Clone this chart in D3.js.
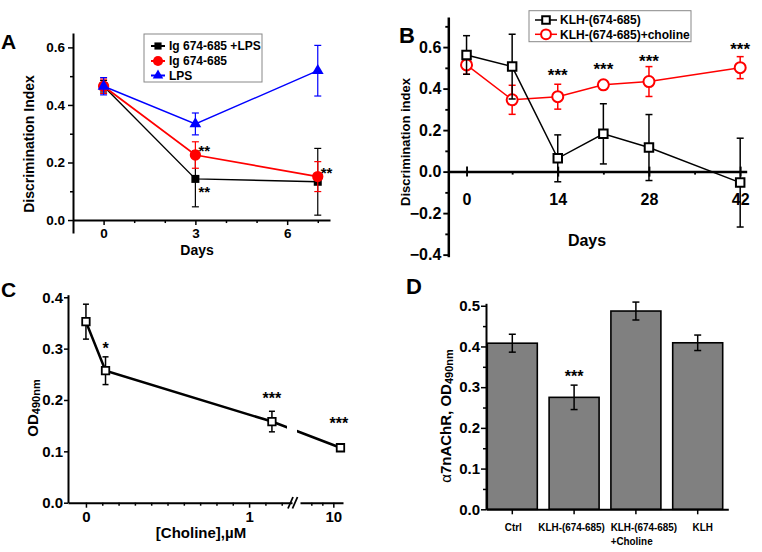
<!DOCTYPE html>
<html><head><meta charset="utf-8">
<script src="https://cdn.jsdelivr.net/npm/d3@7"></script>
<style>body{margin:0;background:#fff}</style>
</head><body>
<svg id="c" width="762" height="552"></svg>
<script>
// ---------- Panel A data ----------
const aDays = [0, 3, 7];
const aNames = ["Ig 674-685 +LPS", "Ig 674-685", "LPS"];
const aIgLps = [0.465, 0.143, 0.133];
const aIgLpsErr = [0.02, 0.097, 0.116];
const aIg = [0.465, 0.226, 0.151];
const aIgErr = [0.025, 0.046, 0.052];
const aLps = [0.465, 0.334, 0.519];
const aLpsErr = [0.03, 0.038, 0.088];
const aTicksX = [0, 3, 6];
const aTicksY = [0.0, 0.2, 0.4, 0.6];
const aStarDay = [3, 3, 7];
const aStarVal = [0.252, 0.111, 0.176];
const aStarText = ["**", "**", "**"];

// ---------- Panel B data ----------
const bDays = [0, 7, 14, 21, 28, 42];
const bNames = ["KLH-(674-685)", "KLH-(674-685)+choline"];
const bKlh = [0.562, 0.506, 0.064, 0.182, 0.116, -0.053];
const bKlhErr = [0.093, 0.156, 0.113, 0.145, 0.159, 0.214];
const bChol = [0.514, 0.346, 0.361, 0.418, 0.434, 0.501];
const bCholErr = [0.045, 0.07, 0.06, 0.02, 0.072, 0.053];
const bTicksX = [0, 14, 28, 42];
const bTicksY = [-0.4, -0.2, 0.0, 0.2, 0.4, 0.6];
const bStarDay = [14, 21, 28, 42];
const bStarVal = [0.485, 0.514, 0.551, 0.61];
const bStarText = ["***", "***", "***", "***"];

// ---------- Panel C data ----------
const cConc = [0, 0.12, 1.14, 10.65];
const cOD = [0.3525, 0.257, 0.158, 0.107];
const cErr = [0.034, 0.027, 0.02, 0.006];
const cTicksX = [0, 1, 10];
const cTicksY = [0.0, 0.1, 0.2, 0.3, 0.4];
const cStarConc = [0.12, 1.14, 10.5];
const cStarVal = [0.307, 0.21, 0.162];
const cStarText = ["*", "***", "***"];

// ---------- Panel D data ----------
const dCats = ["Ctrl", "KLH-(674-685)", "KLH-(674-685)|+Choline", "KLH"];
const dVals = [0.408, 0.275, 0.487, 0.409];
const dErr = [0.022, 0.03, 0.022, 0.019];
const dTicksY = [0.0, 0.1, 0.2, 0.3, 0.4, 0.5];
const dStarCat = ["KLH-(674-685)"];
const dStarVal = [0.336];
const dStarText = ["***"];

const F = 'Arial, "Liberation Sans", Helvetica, sans-serif';
const svg = d3.select("#c").attr("font-family", F);
const fmt = d3.format(".1f");

function styleAxis(g, fs, w) {
  g.attr("font-family", F).attr("font-size", fs).attr("font-weight", "bold");
  g.select(".domain").attr("stroke-width", w);
  g.selectAll(".tick line").attr("stroke-width", w * 0.75);
  g.selectAll(".tick text").attr("fill", "#000");
  return g;
}
function minor(g, axis, w) {
  g.call(axis.tickFormat(""));
  g.select(".domain").remove();
  g.selectAll(".tick line").attr("stroke-width", w * 0.75);
}
function errBars(g, xs, ys, es, x, y, color, cap, w) {
  xs.forEach((d, i) => {
    const cx = x(d), y1 = y(ys[i] - es[i]), y2 = y(ys[i] + es[i]);
    g.append("line").attr("x1", cx).attr("x2", cx).attr("y1", y1).attr("y2", y2)
      .attr("stroke", color).attr("stroke-width", w);
    [y1, y2].forEach(yy => g.append("line").attr("x1", cx - cap).attr("x2", cx + cap)
      .attr("y1", yy).attr("y2", yy).attr("stroke", color).attr("stroke-width", w));
  });
}
function stars(g, xs, vals, texts, x, y, fs, anchor, dx) {
  xs.forEach((d, i) => g.append("text").attr("x", x(d) + (dx || 0)).attr("y", y(vals[i]) + 0.58 * fs)
    .attr("text-anchor", anchor).attr("font-size", fs).attr("font-weight", "bold").text(texts[i]));
}
function panelLabel(t, x, y, fs) {
  svg.append("text").attr("x", x).attr("y", y).attr("font-size", fs).attr("font-weight", "bold").text(t);
}

// ================= Panel A =================
{
  const x = d3.scaleLinear().domain([-1, 7.4]).range([73, 330]);
  const y = d3.scaleLinear().domain([-0.045, 0.65]).range([233, 33]);
  const g = svg.append("g");
  styleAxis(g.append("g").attr("transform", `translate(73,0)`)
    .call(d3.axisLeft(y).tickValues(aTicksY).tickFormat(fmt).tickSize(5).tickSizeOuter(0).tickPadding(3)), 13.5, 2);
  minor(g.append("g").attr("transform", `translate(73,0)`), d3.axisLeft(y).tickValues([0.1, 0.3, 0.5]).tickSize(3), 2);
  styleAxis(g.append("g").attr("transform", `translate(0,${y(0)})`)
    .call(d3.axisBottom(x).tickValues(aTicksX).tickFormat(d3.format("d")).tickSize(5).tickSizeOuter(0).tickPadding(3)), 13.5, 2);
  minor(g.append("g").attr("transform", `translate(0,${y(0)})`), d3.axisBottom(x).tickValues([1, 2, 4, 5, 7]).tickSize(3), 2);

  const series = [
    {v: aIgLps, e: aIgLpsErr, c: "#000000", s: d3.symbolSquare, sz: 64, w: 1.4},
    {v: aIg, e: aIgErr, c: "#ff0000", s: d3.symbolCircle, sz: 100, w: 1.8},
    {v: aLps, e: aLpsErr, c: "#0000ff", s: d3.symbolTriangle, sz: 60, w: 1.4}
  ];
  series.forEach(sr => {
    g.append("path").attr("d", d3.line().x((d, i) => x(aDays[i])).y(d => y(d))(sr.v))
      .attr("fill", "none").attr("stroke", sr.c).attr("stroke-width", sr.w);
    errBars(g, aDays, sr.v, sr.e, x, y, sr.c, 3.5, 1.2);
    sr.v.forEach((d, i) => g.append("path").attr("d", d3.symbol().type(sr.s).size(sr.sz)())
      .attr("transform", `translate(${x(aDays[i])},${y(d)})`).attr("fill", sr.c));
  });
  stars(g, aStarDay, aStarVal, aStarText, x, y, 15, "start", 3);

  // legend
  const lg = g.append("g");
  lg.append("rect").attr("x", 144).attr("y", 34).attr("width", 118).attr("height", 48)
    .attr("fill", "#fff").attr("stroke", "#888").attr("stroke-width", 1);
  const rows = [46, 61, 75.5];
  series.forEach((sr, i) => {
    lg.append("line").attr("x1", 151).attr("x2", 165).attr("y1", rows[i]).attr("y2", rows[i])
      .attr("stroke", sr.c).attr("stroke-width", 2);
    lg.append("path").attr("d", d3.symbol().type(sr.s).size(sr.sz * 0.8)())
      .attr("transform", `translate(158,${rows[i]})`).attr("fill", sr.c);
    lg.append("text").attr("x", 169).attr("y", rows[i] + 4.3).attr("font-size", 12)
      .attr("font-weight", "bold").text(aNames[i]);
  });
  g.append("text").attr("transform", "translate(34,144) rotate(-90)").attr("text-anchor", "middle")
    .attr("font-size", 14).attr("font-weight", "bold").text("Discrimination Index");
  g.append("text").attr("x", 197).attr("y", 255).attr("text-anchor", "middle")
    .attr("font-size", 14).attr("font-weight", "bold").text("Days");
  panelLabel("A", 1, 49, 21);
}

// ================= Panel B =================
{
  const x = d3.scaleLinear().domain([-2.8, 43]).range([448.3, 746.7]);
  const y = d3.scaleLinear().domain([-0.41, 0.745]).range([256.7, 17]);
  const g = svg.append("g");
  styleAxis(g.append("g").attr("transform", `translate(448.3,0)`)
    .call(d3.axisLeft(y).tickValues(bTicksY).tickFormat(fmt).tickSize(5).tickSizeOuter(0).tickPadding(2)), 16, 2.5);
  minor(g.append("g").attr("transform", `translate(448.3,0)`), d3.axisLeft(y).tickValues([-0.3, -0.1, 0.1, 0.3, 0.5, 0.7]).tickSize(3), 2.5);
  const xa = styleAxis(g.append("g").attr("transform", `translate(0,${y(0)})`)
    .call(d3.axisBottom(x).tickValues(bTicksX).tickFormat(d3.format("d")).tickSize(5).tickSizeOuter(0).tickPadding(17)), 16, 2.5);
  xa.selectAll(".tick line").attr("y1", -5).attr("y2", 5);
  minor(g.append("g").attr("transform", `translate(0,${y(0)})`), d3.axisBottom(x).tickValues([7, 21, 35]).tickSize(3), 2.5);

  const series = [
    {v: bChol, e: bCholErr, c: "#ff0000", s: d3.symbolCircle, sz: 95},
    {v: bKlh, e: bKlhErr, c: "#000000", s: d3.symbolSquare, sz: 72}
  ];
  series.forEach(sr => {
    g.append("path").attr("d", d3.line().x((d, i) => x(bDays[i])).y(d => y(d))(sr.v))
      .attr("fill", "none").attr("stroke", sr.c).attr("stroke-width", 1.5);
    errBars(g, bDays, sr.v, sr.e, x, y, sr.c, 3.5, 1.5);
    sr.v.forEach((d, i) => g.append("path").attr("d", d3.symbol().type(sr.s).size(sr.sz)())
      .attr("transform", `translate(${x(bDays[i])},${y(d)})`).attr("fill", "#fff")
      .attr("stroke", sr.c).attr("stroke-width", 2));
  });
  stars(g, bStarDay, bStarVal, bStarText, x, y, 17, "middle", 0);

  const lg = g.append("g");
  lg.append("rect").attr("x", 529).attr("y", 10.7).attr("width", 162).attr("height", 31)
    .attr("fill", "#fff").attr("stroke", "#888").attr("stroke-width", 1);
  const rows = [20, 34.3];
  [series[1], series[0]].forEach((sr, i) => {
    lg.append("line").attr("x1", 535).attr("x2", 557).attr("y1", rows[i]).attr("y2", rows[i])
      .attr("stroke", sr.c).attr("stroke-width", 1.5);
    lg.append("path").attr("d", d3.symbol().type(sr.s).size(sr.sz * 0.8)())
      .attr("transform", `translate(546,${rows[i]})`).attr("fill", "#fff")
      .attr("stroke", sr.c).attr("stroke-width", 2);
    lg.append("text").attr("x", 560).attr("y", rows[i] + 4.3).attr("font-size", 12)
      .attr("font-weight", "bold").text(bNames[i]);
  });
  g.append("text").attr("transform", "translate(410,142) rotate(-90)").attr("text-anchor", "middle")
    .attr("font-size", 13).attr("font-weight", "bold").text("Discrimination index");
  g.append("text").attr("x", 587).attr("y", 246).attr("text-anchor", "middle")
    .attr("font-size", 16).attr("font-weight", "bold").text("Days");
  panelLabel("B", 399, 43, 22);
}

// ================= Panel C =================
{
  const x1 = d3.scaleLinear().domain([-0.11, 1.263]).range([68, 292]);
  const x2 = d3.scaleLinear().domain([6.97, 10.88]).range([300, 343]);
  const x = v => (v <= 1.263 ? x1(v) : x2(v));
  const y = d3.scaleLinear().domain([0, 0.405]).range([502.7, 294.7]);
  const g = svg.append("g");
  styleAxis(g.append("g").attr("transform", `translate(68,0)`)
    .call(d3.axisLeft(y).tickValues(cTicksY).tickFormat(fmt).tickSize(4).tickSizeOuter(0).tickPadding(1)), 15, 2);
  styleAxis(g.append("g").attr("transform", `translate(0,502.7)`)
    .call(d3.axisBottom(x1).tickValues(cTicksX.filter(v => v <= 1.263)).tickFormat(d3.format("d")).tickSize(5).tickSizeOuter(0).tickPadding(4)), 15, 2);
  minor(g.append("g").attr("transform", `translate(0,502.7)`), d3.axisBottom(x1).tickValues(d3.range(1, 13).filter(i => i !== 10).map(i => i / 10)).tickSize(3), 2);
  styleAxis(g.append("g").attr("transform", `translate(0,502.7)`)
    .call(d3.axisBottom(x2).tickValues(cTicksX.filter(v => v > 1.263)).tickFormat(d3.format("d")).tickSize(5).tickSizeOuter(0).tickPadding(4)), 15, 2);
  minor(g.append("g").attr("transform", `translate(0,502.7)`), d3.axisBottom(x2).tickValues([8, 9]).tickSize(3), 2);
  // break marks
  [288, 292.5].forEach(bx => g.append("line").attr("x1", bx).attr("y1", 508.5).attr("x2", bx + 5).attr("y2", 497)
    .attr("stroke", "#000").attr("stroke-width", 1.8));

  const clip = svg.append("defs").append("clipPath").attr("id", "cgap");
  clip.append("rect").attr("x", 0).attr("y", 0).attr("width", 287).attr("height", 552);
  clip.append("rect").attr("x", 297).attr("y", 0).attr("width", 465).attr("height", 552);
  g.append("path").attr("d", d3.line().x((d, i) => x(cConc[i])).y(d => y(d))(cOD))
    .attr("fill", "none").attr("stroke", "#000").attr("stroke-width", 2.5).attr("clip-path", "url(#cgap)");
  errBars(g, cConc, cOD, cErr, x, y, "#000", 3, 1.5);
  cOD.forEach((d, i) => g.append("path").attr("d", d3.symbol().type(d3.symbolSquare).size(56)())
    .attr("transform", `translate(${x(cConc[i])},${y(d)})`).attr("fill", "#fff")
    .attr("stroke", "#000").attr("stroke-width", 1.8));
  stars(g, cStarConc, cStarVal, cStarText, x, y, 16, "middle", 0);

  const yl = g.append("text").attr("transform", "translate(38,408) rotate(-90)").attr("text-anchor", "middle")
    .attr("font-weight", "bold");
  yl.append("tspan").attr("font-size", 15).text("OD");
  yl.append("tspan").attr("font-size", 11).attr("dy", 1.5).text("490nm");
  g.append("text").attr("x", 201).attr("y", 538).attr("text-anchor", "middle")
    .attr("font-size", 15).attr("font-weight", "bold").text("[Choline],\u00b5M");
  panelLabel("C", 1, 297, 21);
}

// ================= Panel D =================
{
  const x = d3.scaleBand().domain(dCats).range([481.4, 728.6]).paddingInner(0.191).paddingOuter(0.0955);
  const y = d3.scaleLinear().domain([0, 0.506]).range([509.3, 303.3]);
  const g = svg.append("g");
  g.selectAll("rect.bar").data(dVals).enter().append("rect")
    .attr("x", (d, i) => x(dCats[i])).attr("width", x.bandwidth())
    .attr("y", d => y(d)).attr("height", d => y(0) - y(d))
    .attr("fill", "#808080").attr("stroke", "#000").attr("stroke-width", 1.6);
  errBars(g, dCats, dVals, dErr, c => x(c) + x.bandwidth() / 2, y, "#000", 3.5, 1.5);
  styleAxis(g.append("g").attr("transform", `translate(486,0)`)
    .call(d3.axisLeft(y).tickValues(dTicksY).tickFormat(fmt).tickSize(5).tickSizeOuter(0).tickPadding(1)), 15, 2);
  minor(g.append("g").attr("transform", `translate(486,0)`), d3.axisLeft(y).tickValues([0.05, 0.15, 0.25, 0.35, 0.45]).tickSize(3), 2);
  const xs = d3.scaleLinear().domain([0, 1]).range([486, 728.3]);
  const xa = styleAxis(g.append("g").attr("transform", `translate(0,509.3)`)
    .call(d3.axisBottom(xs).tickValues([]).tickSizeOuter(0)), 10, 2);
  const shifts = [1, -2.5, 8, 5];
  dCats.forEach((c, i) => {
    const cx = x(c) + x.bandwidth() / 2;
    xa.append("line").attr("x1", cx).attr("x2", cx).attr("y1", 0).attr("y2", 5).attr("stroke", "#000").attr("stroke-width", 1.5);
    const lines = c.split("|");
    const lx = cx + shifts[i];
    const grp = xa.append("g");
    let maxW = 0;
    const ts = lines.map((ln, k) => {
      const t = grp.append("text").attr("x", 0).attr("y", 21.5 + k * 14.5)
        .attr("font-size", 11).attr("font-weight", "bold").attr("fill", "#000").text(ln);
      maxW = Math.max(maxW, t.node().getComputedTextLength());
      return t;
    });
    const sx = Math.min(0.9, 68 / maxW);
    ts.forEach(t => t.attr("text-anchor", lines.length > 1 ? "start" : "middle")
      .attr("x", lines.length > 1 ? -maxW / 2 : 0));
    grp.attr("transform", `translate(${lx},0) scale(${sx},1)`);
  });
  stars(g, dStarCat, dStarVal, dStarText, c => x(c) + x.bandwidth() / 2, y, 16, "middle", 0);

  const yl = g.append("text").attr("transform", "translate(451,416) rotate(-90)").attr("text-anchor", "middle")
    .attr("font-weight", "bold");
  yl.append("tspan").attr("font-size", 15).attr("font-weight", "normal").text("\u03b1");
  yl.append("tspan").attr("font-size", 15).text("7nAChR, OD");
  yl.append("tspan").attr("font-size", 11).attr("dy", 1.5).text("490nm");
  panelLabel("D", 406, 294, 22);
}
</script>
</body></html>
